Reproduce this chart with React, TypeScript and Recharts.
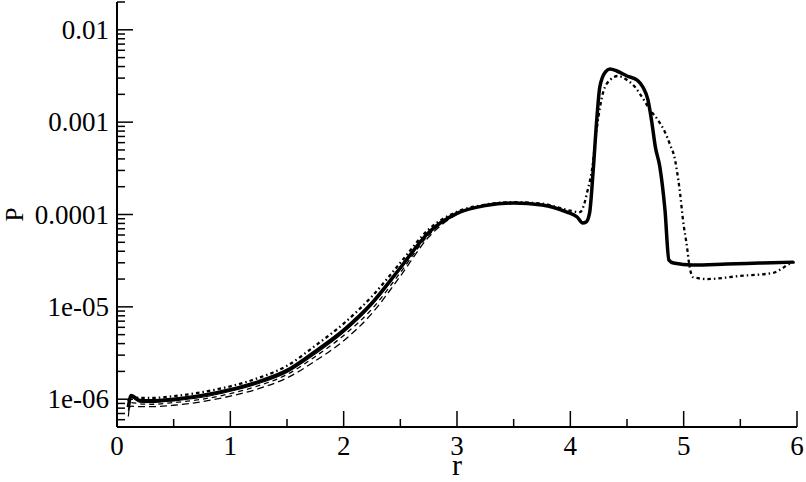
import { LineChart, Line, XAxis, YAxis } from 'recharts'

// r grid shared by all curves below r = 3
const LOW_R = [0.1, 0.125, 0.2, 0.3, 0.5, 0.75, 1.0, 1.25, 1.5, 1.75, 2.0, 2.25, 2.5, 2.75, 3.0]
const THICK_LOW = [8.2e-7, 1.1e-6, 9.7e-7, 9.6e-7, 1.0e-6, 1.1e-6, 1.27e-6, 1.55e-6, 2.05e-6, 3.3e-6, 5.6e-6, 1.1e-5, 2.65e-5, 6.4e-5, 1.03e-4]
const THIN_LOW = [6.5e-7, 1.05e-6, 9.3e-7, 9.2e-7, 9.6e-7, 1.05e-6, 1.22e-6, 1.48e-6, 1.95e-6, 3.1e-6, 5.3e-6, 1.05e-5, 2.55e-5, 6.3e-5, 1.03e-4]
const DASH_LOW = [7.5e-7, 9.2e-7, 8.9e-7, 8.8e-7, 9.2e-7, 1.0e-6, 1.15e-6, 1.4e-6, 1.85e-6, 2.9e-6, 4.9e-6, 9.5e-6, 2.35e-5, 6.0e-5, 1.01e-4]
const DASH2_LOW = [7.8e-7, 8.4e-7, 8.3e-7, 8.3e-7, 8.6e-7, 9.4e-7, 1.08e-6, 1.3e-6, 1.7e-6, 2.6e-6, 4.3e-6, 8.5e-6, 2.15e-5, 5.7e-5, 1.0e-4]
const DOT_LOW = [9.5e-7, 1.06e-6, 1.03e-6, 1.03e-6, 1.08e-6, 1.19e-6, 1.38e-6, 1.7e-6, 2.3e-6, 3.8e-6, 6.6e-6, 1.3e-5, 3.0e-5, 6.9e-5, 1.07e-4]

// upper part, main (solid / dashed) curves
const MAIN_UP_R = [3.25, 3.5, 3.75, 3.97, 4.06, 4.11, 4.14, 4.17, 4.2, 4.235, 4.26, 4.31, 4.35, 4.41, 4.5, 4.59, 4.64, 4.685, 4.72, 4.75, 4.79, 4.835, 4.87, 4.91, 5.08, 5.38, 5.67, 5.97]
const MAIN_UP = [1.25e-4, 1.33e-4, 1.27e-4, 1.06e-4, 9.4e-5, 8.1e-5, 8.3e-5, 1.04e-4, 2.8e-4, 1.14e-3, 2.4e-3, 3.5e-3, 3.76e-3, 3.58e-3, 3.16e-3, 2.86e-3, 2.4e-3, 1.74e-3, 9.8e-4, 5.4e-4, 3.27e-4, 1.12e-4, 3.2e-5, 2.98e-5, 2.84e-5, 2.91e-5, 2.98e-5, 3.05e-5]

// upper part, dash-dot curve
const DOT_UP_R = [3.25, 3.5, 3.75, 4.0, 4.085, 4.13, 4.147, 4.19, 4.235, 4.288, 4.35, 4.42, 4.5, 4.571, 4.632, 4.703, 4.774, 4.835, 4.88, 4.924, 4.94, 4.968, 4.994, 5.03, 5.047, 5.082, 5.206, 5.497, 5.788, 5.876, 5.912, 5.98]
const DOT_UP = [1.28e-4, 1.36e-4, 1.31e-4, 1.1e-4, 1.06e-4, 1.4e-4, 1.71e-4, 3.0e-4, 8.85e-4, 2.07e-3, 2.86e-3, 3.16e-3, 2.86e-3, 2.4e-3, 1.87e-3, 1.36e-3, 1.05e-3, 7.8e-4, 5.7e-4, 3.9e-4, 3.0e-4, 1.71e-4, 8.7e-5, 4.4e-5, 3.0e-5, 2.1e-5, 2.0e-5, 2.16e-5, 2.33e-5, 2.64e-5, 2.83e-5, 3.05e-5]

const X_TICKS = [0, 0.5, 1, 1.5, 2, 2.5, 3, 3.5, 4, 4.5, 5, 5.5, 6]
const Y_MAJOR = [1e-6, 1e-5, 1e-4, 1e-3, 1e-2]
const Y_LABELS = ['1e-06', '1e-05', '0.0001', '0.001', '0.01']
const Y_DOMAIN: [number, number] = [5e-7, 0.02]

const FONT = 'Liberation Serif, Tinos, Times New Roman, DejaVu Serif, serif'
const textStyle = { fontFamily: FONT }
const TICK_FONT = 27
const MAJOR_LEN = 16
const MINOR_LEN = 8

function rows(rs: number[], ps: number[]) {
  return rs.map((r, i) => ({ r, P: ps[i] }))
}

const thick = rows([...LOW_R, ...MAIN_UP_R], [...THICK_LOW, ...MAIN_UP])
const thin = rows([...LOW_R, ...MAIN_UP_R], [...THIN_LOW, ...MAIN_UP])
const dash1 = rows([...LOW_R, ...MAIN_UP_R], [...DASH_LOW, ...MAIN_UP])
const dash2 = rows([...LOW_R, ...MAIN_UP_R], [...DASH2_LOW, ...MAIN_UP])
const dotted = rows([...LOW_R, ...DOT_UP_R], [...DOT_LOW, ...DOT_UP])

// log ticks: decades plus 2..9 minors
const yTicks: number[] = []
for (let e = -7; e <= -2; e++) {
  for (let k = 1; k <= 9; k++) {
    const v = Number((k * Math.pow(10, e)).toPrecision(3))
    if (v >= Y_DOMAIN[0] && v <= Y_DOMAIN[1]) yTicks.push(v)
  }
}

function majorIndex(v: number) {
  return Y_MAJOR.findIndex(m => Math.abs(v / m - 1) < 1e-6)
}

function BottomTick({ x, y, payload }: any) {
  const major = Number.isInteger(payload.value)
  return (
    <g>
      <line x1={x} x2={x} y1={y} y2={y - (major ? MAJOR_LEN : MINOR_LEN)} stroke="#000" strokeWidth={1.5} />
      {major && (
        <text x={x} y={y + 28} textAnchor="middle" fontSize={TICK_FONT} style={textStyle} fill="#000">
          {payload.value}
        </text>
      )}
    </g>
  )
}

function TopTick({ x, y, payload }: any) {
  const major = Number.isInteger(payload.value)
  return <line x1={x} x2={x} y1={y} y2={y + (major ? MAJOR_LEN : MINOR_LEN)} stroke="#000" strokeWidth={1.5} />
}

function LeftTick({ x, y, payload }: any) {
  const idx = majorIndex(payload.value)
  return (
    <g>
      <line x1={x} x2={x + (idx >= 0 ? MAJOR_LEN : MINOR_LEN)} y1={y} y2={y} stroke="#000" strokeWidth={1.5} />
      {idx >= 0 && (
        <text x={x - 8} y={y + 9} textAnchor="end" fontSize={TICK_FONT} style={textStyle} fill="#000">
          {Y_LABELS[idx]}
        </text>
      )}
    </g>
  )
}

function RightTick({ x, y, payload }: any) {
  const major = majorIndex(payload.value) >= 0
  return <line x1={x} x2={x - (major ? MAJOR_LEN : MINOR_LEN)} y1={y} y2={y} stroke="#000" strokeWidth={1.5} />
}

const axisLine = { stroke: '#000', strokeWidth: 2 }

export default function App() {
  return (
    <div style={{ position: 'absolute', left: 0, top: 0, width: 806, height: 482, background: '#fff' }}>
      <LineChart width={806} height={482} margin={{ top: 2, right: 9, bottom: 0, left: 0 }}>
        <XAxis
          dataKey="r"
          type="number"
          domain={[0, 6]}
          ticks={X_TICKS}
          allowDataOverflow
          height={55}
          tickSize={0}
          tickMargin={0}
          axisLine={axisLine}
          tickLine={false}
          tick={<BottomTick />}
          interval={0}
          label={{
            content: ({ viewBox }: any) => (
              <text x={viewBox.x + viewBox.width / 2} y={viewBox.y + viewBox.height - 7} textAnchor="middle" fontSize={30} style={textStyle} fill="#000">
                r
              </text>
            ),
          }}
        />
        <XAxis
          xAxisId="top"
          orientation="top"
          dataKey="r"
          type="number"
          domain={[0, 6]}
          ticks={X_TICKS}
          allowDataOverflow
          height={0}
          tickSize={0}
          tickMargin={0}
          axisLine={axisLine}
          tickLine={false}
          tick={<TopTick />}
          interval={0}
        />
        <YAxis
          dataKey="P"
          scale="log"
          type="number"
          domain={Y_DOMAIN}
          ticks={yTicks}
          allowDataOverflow
          width={117}
          tickSize={0}
          tickMargin={0}
          axisLine={axisLine}
          tickLine={false}
          tick={<LeftTick />}
          interval={0}
          label={{
            content: ({ viewBox }: any) => {
              const cx = viewBox.x + 14
              const cy = viewBox.y + viewBox.height / 2
              return (
                <text x={cx} y={cy} transform={`rotate(-90, ${cx}, ${cy})`} textAnchor="middle" dominantBaseline="central" fontSize={25} style={textStyle} fill="#000">
                  P
                </text>
              )
            },
          }}
        />
        <YAxis
          yAxisId="right"
          orientation="right"
          scale="log"
          type="number"
          domain={Y_DOMAIN}
          ticks={yTicks}
          allowDataOverflow
          width={0}
          tickSize={0}
          tickMargin={0}
          axisLine={axisLine}
          tickLine={false}
          tick={<RightTick />}
          interval={0}
        />
        <Line data={dash2} dataKey="P" type="monotoneX" stroke="#000" strokeWidth={1.3} strokeDasharray="7 4" dot={false} isAnimationActive={false} />
        <Line data={dash1} dataKey="P" type="monotoneX" stroke="#000" strokeWidth={1.3} strokeDasharray="5 4" dot={false} isAnimationActive={false} />
        <Line data={thin} dataKey="P" type="monotoneX" stroke="#000" strokeWidth={1.2} dot={false} isAnimationActive={false} />
        <Line data={dotted} dataKey="P" type="monotoneX" stroke="#000" strokeWidth={2.3} strokeDasharray="1.5 3 3.5 3" dot={false} isAnimationActive={false} />
        <Line data={thick} dataKey="P" type="monotoneX" stroke="#000" strokeWidth={3.5} dot={false} isAnimationActive={false} />
      </LineChart>
    </div>
  )
}
